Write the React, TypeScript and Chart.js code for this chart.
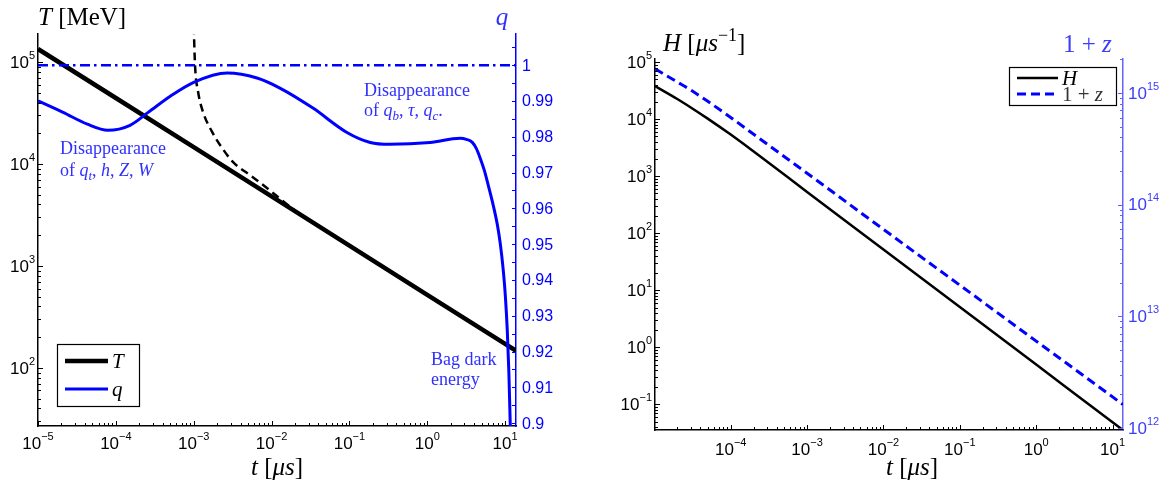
import React, { useEffect, useRef } from 'react';
import { Chart, registerables } from 'chart.js';

Chart.register(...registerables);

// ---------------- Left panel data ----------------
const leftTimeRange = [1e-5, 13.8];
const tempRange = [26.9, 1.88e5];
const qRange = [0.8992, 1.0087];

const tempTimes = [1e-5, 1e-4, 1e-3, 1e-2, 1e-1, 1, 10, 13.8];
const tempValues = [1.34e5, 4.43e4, 1.46e4, 4.8e3, 1.58e3, 520, 172, 147];

const approxTimes = [0.99e-3, 1.04e-3, 1.14e-3, 1.32e-3, 1.73e-3, 2.32e-3, 3.21e-3, 5.3e-3, 7.8e-3, 0.02, 0.03];
const approxTemps = [3.0e5, 9.3e4, 5.07e4, 3.22e4, 2.05e4, 1.43e4, 1.04e4, 7.75e3, 6.2e3, 3.5e3, 2.85e3];

const qTimes = [1e-5, 2.1e-5, 4.3e-5, 7.9e-5, 1.52e-4, 2.6e-4, 5e-4, 1e-3, 2.7e-3, 6.5e-3, 0.0128, 0.034, 0.093, 0.185, 0.33, 1.09, 2.65, 3.17, 3.79, 4.26, 4.8, 5.41, 6.08, 7.05, 7.94, 8.67, 9.48, 10.07, 10.67, 11.16, 11.66, 11.83];
const qValues = [0.99, 0.9868, 0.9835, 0.9818, 0.9832, 0.9868, 0.9913, 0.9952, 0.9978, 0.9964, 0.9936, 0.988, 0.9812, 0.9784, 0.9779, 0.9784, 0.97955, 0.97927, 0.97843, 0.97675, 0.97395, 0.97059, 0.96639, 0.96078, 0.95546, 0.95014, 0.94258, 0.93557, 0.92577, 0.91457, 0.89916, 0.895];

const qUnityTimes = [1e-5, 13.8];
const qUnityValues = [1, 1];

const qTicks = [0.9, 0.91, 0.92, 0.93, 0.94, 0.95, 0.96, 0.97, 0.98, 0.99, 1];
const qTickLabels = ['0.9', '0.91', '0.92', '0.93', '0.94', '0.95', '0.96', '0.97', '0.98', '0.99', '1'];
const qMinorTicks = [0.905, 0.915, 0.925, 0.935, 0.945, 0.955, 0.965, 0.975, 0.985, 0.995, 1.005];

const leftXTickExps = [-5, -4, -3, -2, -1, 0, 1];
const tempTickExps = [2, 3, 4, 5];

// ---------------- Right panel data ----------------
const rightTimeRange = [1.02e-5, 13.7];
const hubbleRange = [0.0357, 1.13e5];
const redshiftRange = [9.6e11, 2.01e15];

const hubbleTimes = [1.02e-5, 2e-5, 3e-5, 5e-5, 1e-4, 2e-4, 1e-3, 1e-2, 1e-1, 1, 10, 13.7];
const hubbleValues = [3.8e4, 2.25e4, 1.6e4, 1.02e4, 5.35e3, 2.7e3, 530, 52, 5.1, 0.5, 0.049, 0.0357];
const redshiftValues = [1.64e15, 1.25e15, 1.06e15, 8.4e14, 6.03e14, 4.26e14, 1.91e14, 6.0e13, 1.9e13, 6.0e12, 1.9e12, 1.62e12];

const rightXTickExps = [-4, -3, -2, -1, 0, 1];
const hubbleTickExps = [-1, 0, 1, 2, 3, 4, 5];
const redshiftTickExps = [12, 13, 14, 15];

// ---------------- helpers ----------------
const SANS = '"Liberation Sans", Arial, Helvetica, sans-serif';
const SERIF = '"Liberation Serif", "Times New Roman", serif';

type Run = { t: string; it?: boolean; sub?: boolean; sup?: boolean };

function pts(xs: number[], ys: number[]) {
  return xs.map((x, i) => ({ x, y: ys[i] }));
}

function logGrid(min: number, max: number) {
  const out: { v: number; major: boolean }[] = [];
  for (let e = Math.floor(Math.log10(min)) - 1; e <= Math.ceil(Math.log10(max)); e++) {
    for (let k = 1; k <= 9; k++) {
      const v = k * Math.pow(10, e);
      if (v >= min * 0.9999 && v <= max * 1.0001) out.push({ v, major: k === 1 });
    }
  }
  return out;
}

function seg(ctx: CanvasRenderingContext2D, x1: number, y1: number, x2: number, y2: number, color: string, w = 1) {
  ctx.beginPath();
  ctx.setLineDash([]);
  ctx.moveTo(x1, y1);
  ctx.lineTo(x2, y2);
  ctx.strokeStyle = color;
  ctx.lineWidth = w;
  ctx.stroke();
}

function drawPow(ctx: CanvasRenderingContext2D, exp: number, x: number, y: number, align: string, color: string, size = 17) {
  const big = `${size}px ${SANS}`;
  const small = `${Math.round(size * 0.66)}px ${SANS}`;
  const es = exp < 0 ? '\u2212' + Math.abs(exp) : String(exp);
  ctx.font = big;
  const w1 = ctx.measureText('10').width;
  ctx.font = small;
  const w2 = ctx.measureText(es).width;
  const total = w1 + w2;
  const x0 = align === 'center' ? x - total / 2 : align === 'right' ? x - total : x;
  ctx.fillStyle = color;
  ctx.textAlign = 'left';
  ctx.textBaseline = 'middle';
  ctx.font = big;
  ctx.fillText('10', x0, y);
  ctx.font = small;
  ctx.fillText(es, x0 + w1, y - size * 0.42);
}

function drawRich(ctx: CanvasRenderingContext2D, runs: Run[], x: number, y: number, size: number, color: string, align = 'left') {
  const fontFor = (r: Run) => `${r.it ? 'italic ' : ''}${r.sub || r.sup ? Math.round(size * 0.7) : size}px ${SERIF}`;
  let total = 0;
  const ws = runs.map((r) => {
    ctx.font = fontFor(r);
    const w = ctx.measureText(r.t).width;
    total += w;
    return w;
  });
  let cx = align === 'center' ? x - total / 2 : align === 'right' ? x - total : x;
  ctx.fillStyle = color;
  ctx.textAlign = 'left';
  ctx.textBaseline = 'alphabetic';
  runs.forEach((r, i) => {
    ctx.font = fontFor(r);
    const dy = r.sub ? size * 0.2 : r.sup ? -size * 0.42 : 0;
    ctx.fillText(r.t, cx, y + dy);
    cx += ws[i];
  });
}

function drawLegend(ctx: CanvasRenderingContext2D, chart: any, box: number[], items: { ds: number; y: number; runs: Run[]; textColor: string }[], lineX: number[], textX: number, size: number) {
  const [x0, y0, x1, y1] = box;
  ctx.fillStyle = '#fff';
  ctx.fillRect(x0, y0, x1 - x0, y1 - y0);
  ctx.setLineDash([]);
  ctx.strokeStyle = '#000';
  ctx.lineWidth = 1.2;
  ctx.strokeRect(x0 + 0.5, y0 + 0.5, x1 - x0, y1 - y0);
  items.forEach((it) => {
    const d = chart.data.datasets[it.ds];
    ctx.beginPath();
    ctx.setLineDash(d.borderDash || []);
    ctx.moveTo(lineX[0], it.y);
    ctx.lineTo(lineX[1], it.y);
    ctx.strokeStyle = d.borderColor;
    ctx.lineWidth = d.borderWidth;
    ctx.stroke();
    ctx.setLineDash([]);
    drawRich(ctx, it.runs, textX, it.y + size * 0.33, size, it.textColor);
  });
}

const BLUE = '#0000ff';
const TEXT_BLUE = '#2f2fff';
const LIGHT_BLUE_AXIS = '#6464ff';
const LIGHT_BLUE_TEXT = '#3c3cff';

// ---------------- Left panel ----------------
const leftDecor = {
  id: 'leftDecor',
  afterDraw(chart: any) {
    const ctx: CanvasRenderingContext2D = chart.ctx;
    const ca = chart.chartArea;
    const sx = chart.scales.x;
    const sT = chart.scales.yT;
    const sq = chart.scales.yq;
    ctx.save();
    logGrid(sx.min, sx.max).forEach(({ v, major }) => {
      const p = Math.round(sx.getPixelForValue(v)) + 0.5;
      seg(ctx, p, ca.bottom, p, ca.bottom - (major ? 5 : 3), '#000');
    });
    leftXTickExps.forEach((e) => {
      drawPow(ctx, e, sx.getPixelForValue(Math.pow(10, e)), ca.bottom + 18, 'center', '#000');
    });
    logGrid(sT.min, sT.max).forEach(({ v, major }) => {
      const p = Math.round(sT.getPixelForValue(v)) + 0.5;
      seg(ctx, ca.left, p, ca.left + (major ? 5 : 3), p, '#000');
    });
    tempTickExps.forEach((e) => {
      drawPow(ctx, e, ca.left - 3, sT.getPixelForValue(Math.pow(10, e)) + 1, 'right', '#000');
    });
    [...qTicks, ...qMinorTicks].forEach((v) => {
      if (v < sq.min || v > sq.max) return;
      const p = Math.round(sq.getPixelForValue(v)) + 0.5;
      seg(ctx, ca.right, p, ca.right - 4, p, BLUE);
    });
    ctx.font = `16px ${SANS}`;
    ctx.fillStyle = BLUE;
    ctx.textAlign = 'left';
    ctx.textBaseline = 'middle';
    qTicks.forEach((v, i) => {
      ctx.fillText(qTickLabels[i], ca.right + 6, sq.getPixelForValue(v) + 1);
    });
    drawRich(ctx, [{ t: 'T', it: true }, { t: ' [MeV]' }], ca.left, 25, 25, '#000');
    drawRich(ctx, [{ t: 'q', it: true }], ca.right - 14, 25, 25, TEXT_BLUE, 'center');
    drawRich(ctx, [{ t: 't', it: true }, { t: ' [' }, { t: '\u03bcs', it: true }, { t: ']' }], (ca.left + ca.right) / 2, 475, 25, '#000', 'center');
    drawRich(ctx, [{ t: 'Disappearance' }], ca.left + 22, 154, 18, TEXT_BLUE);
    drawRich(ctx, [{ t: 'of ' }, { t: 'q', it: true }, { t: 't', it: true, sub: true }, { t: ', ' }, { t: 'h', it: true }, { t: ', ' }, { t: 'Z', it: true }, { t: ', ' }, { t: 'W', it: true }], ca.left + 22, 176, 18, TEXT_BLUE);
    drawRich(ctx, [{ t: 'Disappearance' }], 364, 96, 18, TEXT_BLUE);
    drawRich(ctx, [{ t: 'of ' }, { t: 'q', it: true }, { t: 'b', it: true, sub: true }, { t: ', ' }, { t: '\u03c4', it: true }, { t: ', ' }, { t: 'q', it: true }, { t: 'c', it: true, sub: true }, { t: '.' }], 364, 116, 18, TEXT_BLUE);
    drawRich(ctx, [{ t: 'Bag dark' }], 431, 365, 18, TEXT_BLUE);
    drawRich(ctx, [{ t: 'energy' }], 431, 385, 18, TEXT_BLUE);
    drawLegend(ctx, chart, [57, 344, 139, 406], [
      { ds: 2, y: 361, runs: [{ t: 'T', it: true }], textColor: '#000' },
      { ds: 0, y: 389, runs: [{ t: 'q', it: true }], textColor: '#000' },
    ], [65, 108], 112, 21);
    ctx.restore();
  },
};

function LeftPanel() {
  const ref = useRef<HTMLCanvasElement>(null);
  useEffect(() => {
    const chart = new Chart(ref.current as HTMLCanvasElement, {
      type: 'line',
      data: {
        datasets: [
          { label: 'q', data: pts(qTimes, qValues), yAxisID: 'yq', borderColor: BLUE, borderWidth: 3, pointRadius: 0, cubicInterpolationMode: 'monotone' },
          { label: 'q = 1', data: pts(qUnityTimes, qUnityValues), yAxisID: 'yq', borderColor: BLUE, borderWidth: 2.5, borderDash: [10, 4, 2.5, 4.5], pointRadius: 0 },
          { label: 'T', data: pts(tempTimes, tempValues), yAxisID: 'yT', borderColor: '#000', borderWidth: 4.5, pointRadius: 0, tension: 0 },
          { label: 'T approx', data: pts(approxTimes, approxTemps), yAxisID: 'yT', borderColor: '#000', borderWidth: 2.5, borderDash: [8, 5], pointRadius: 0, cubicInterpolationMode: 'monotone' },
        ] as any,
      },
      options: {
        animation: false,
        responsive: true,
        maintainAspectRatio: false,
        events: [],
        layout: { padding: { top: 34, left: 0, right: 0, bottom: 0 } },
        plugins: { legend: { display: false }, tooltip: { enabled: false }, title: { display: false } },
        scales: {
          x: {
            type: 'logarithmic', position: 'bottom', min: leftTimeRange[0], max: leftTimeRange[1],
            grid: { display: false }, border: { display: true, color: '#000', width: 1.5 }, ticks: { display: false },
            afterFit: (s: any) => { s.height = 59; },
          },
          yT: {
            type: 'logarithmic', position: 'left', min: tempRange[0], max: tempRange[1],
            grid: { display: false }, border: { display: true, color: '#000', width: 1.5 }, ticks: { display: false },
            afterFit: (s: any) => { s.width = 38; },
          },
          yq: {
            type: 'linear', position: 'right', min: qRange[0], max: qRange[1],
            grid: { display: false }, border: { display: true, color: BLUE, width: 1.5 }, ticks: { display: false },
            afterFit: (s: any) => { s.width = 64; },
          },
        } as any,
      },
      plugins: [leftDecor],
    });
    return () => chart.destroy();
  }, []);
  return (
    <div style={{ position: 'absolute', left: 0, top: 0, width: 580, height: 485 }}>
      <canvas ref={ref} />
    </div>
  );
}

// ---------------- Right panel ----------------
const rightDecor = {
  id: 'rightDecor',
  afterDraw(chart: any) {
    const ctx: CanvasRenderingContext2D = chart.ctx;
    const ca = chart.chartArea;
    const sx = chart.scales.x;
    const sH = chart.scales.yH;
    const sz = chart.scales.yz;
    ctx.save();
    logGrid(sx.min, sx.max).forEach(({ v, major }) => {
      const p = Math.round(sx.getPixelForValue(v)) + 0.5;
      seg(ctx, p, ca.bottom, p, ca.bottom - (major ? 5 : 3), '#000');
    });
    rightXTickExps.forEach((e) => {
      drawPow(ctx, e, sx.getPixelForValue(Math.pow(10, e)), ca.bottom + 20, 'center', '#000');
    });
    logGrid(sH.min, sH.max).forEach(({ v, major }) => {
      const p = Math.round(sH.getPixelForValue(v)) + 0.5;
      seg(ctx, ca.left, p, ca.left + (major ? 5 : 3), p, '#000');
    });
    hubbleTickExps.forEach((e) => {
      drawPow(ctx, e, ca.left - 3, sH.getPixelForValue(Math.pow(10, e)) + 1, 'right', '#000');
    });
    logGrid(sz.min, sz.max).forEach(({ v, major }) => {
      const p = Math.round(sz.getPixelForValue(v)) + 0.5;
      seg(ctx, ca.right, p, ca.right - (major ? 5 : 3), p, LIGHT_BLUE_AXIS);
    });
    redshiftTickExps.forEach((e) => {
      drawPow(ctx, e, ca.right + 5, sz.getPixelForValue(Math.pow(10, e)) + 1, 'left', LIGHT_BLUE_TEXT);
    });
    drawRich(ctx, [{ t: 'H', it: true }, { t: ' [' }, { t: '\u03bcs', it: true }, { t: '\u22121', sup: true }, { t: ']' }], ca.left + 8, 51, 25, '#000');
    drawRich(ctx, [{ t: '1 + ' }, { t: 'z', it: true }], ca.right - 60, 52, 25, LIGHT_BLUE_TEXT);
    drawRich(ctx, [{ t: 't', it: true }, { t: ' [' }, { t: '\u03bcs', it: true }, { t: ']' }], ca.left + 257, 475, 25, '#000', 'center');
    drawLegend(ctx, chart, [ca.right - 114, 67, ca.right - 7, 105], [
      { ds: 0, y: 78, runs: [{ t: 'H', it: true }], textColor: '#000' },
      { ds: 1, y: 94, runs: [{ t: '1 + ' }, { t: 'z', it: true }], textColor: '#333' },
    ], [ca.right - 106, ca.right - 65], ca.right - 61, 21);
    ctx.restore();
  },
};

function RightPanel() {
  const ref = useRef<HTMLCanvasElement>(null);
  useEffect(() => {
    const chart = new Chart(ref.current as HTMLCanvasElement, {
      type: 'line',
      data: {
        datasets: [
          { label: 'H', data: pts(hubbleTimes, hubbleValues), yAxisID: 'yH', borderColor: '#000', borderWidth: 2.5, pointRadius: 0, cubicInterpolationMode: 'monotone' },
          { label: '1 + z', data: pts(hubbleTimes, redshiftValues), yAxisID: 'yz', borderColor: BLUE, borderWidth: 3, borderDash: [9, 5], pointRadius: 0, cubicInterpolationMode: 'monotone' },
        ] as any,
      },
      options: {
        animation: false,
        responsive: true,
        maintainAspectRatio: false,
        events: [],
        layout: { padding: { top: 59, left: 0, right: 0, bottom: 0 } },
        plugins: { legend: { display: false }, tooltip: { enabled: false }, title: { display: false } },
        scales: {
          x: {
            type: 'logarithmic', position: 'bottom', min: rightTimeRange[0], max: rightTimeRange[1],
            grid: { display: false }, border: { display: true, color: '#000', width: 1.5 }, ticks: { display: false },
            afterFit: (s: any) => { s.height = 55; },
          },
          yH: {
            type: 'logarithmic', position: 'left', min: hubbleRange[0], max: hubbleRange[1],
            grid: { display: false }, border: { display: true, color: '#000', width: 1.5 }, ticks: { display: false },
            afterFit: (s: any) => { s.width = 75; },
          },
          yz: {
            type: 'logarithmic', position: 'right', min: redshiftRange[0], max: redshiftRange[1],
            grid: { display: false }, border: { display: true, color: LIGHT_BLUE_AXIS, width: 1.5 }, ticks: { display: false },
            afterFit: (s: any) => { s.width = 42; },
          },
        } as any,
      },
      plugins: [rightDecor],
    });
    return () => chart.destroy();
  }, []);
  return (
    <div style={{ position: 'absolute', left: 580, top: 0, width: 585, height: 485 }}>
      <canvas ref={ref} />
    </div>
  );
}

export default function App() {
  return (
    <div style={{ position: 'fixed', left: 0, top: 0, width: 1165, height: 485, background: '#fff', overflow: 'hidden' }}>
      <LeftPanel />
      <RightPanel />
    </div>
  );
}
